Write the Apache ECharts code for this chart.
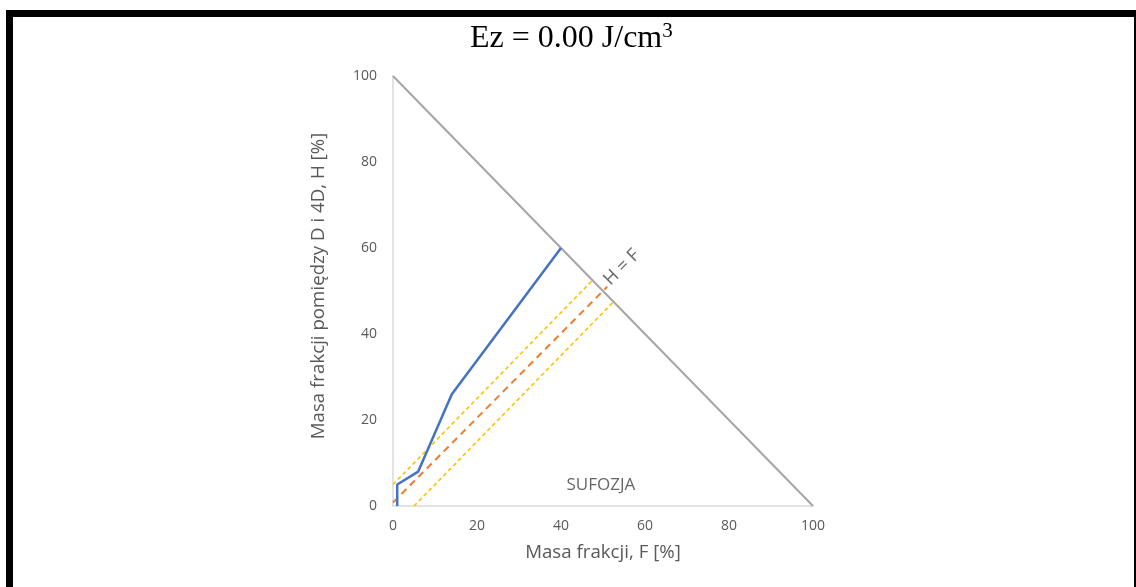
<!DOCTYPE html>
<html>
<head>
<meta charset="utf-8">
<script src="https://cdn.jsdelivr.net/npm/echarts@6/dist/echarts.min.js"></script>
<style>
  html, body { margin: 0; padding: 0; background: #ffffff; overflow: hidden; }
  #frame { position: absolute; left: 6px; top: 10px; width: 1135px; height: 600px;
           border-left: 7px solid #000; border-top: 7px solid #000; border-right: 7px solid #000;
           box-sizing: border-box; }
  #chart { position: absolute; left: 0; top: 0; width: 1136px; height: 587px; }
</style>
</head>
<body>
<div id="frame"></div>
<div id="chart"></div>
<script>
// Axis ticks
const xTicks = [0, 20, 40, 60, 80, 100];
const yTicks = [0, 20, 40, 60, 80, 100];

// Boundary of the admissible region: F + H = 100
const boundaryLine = [[0, 100], [100, 0]];

// Measured curve (F, H)
const curveF = [1, 1, 6, 14, 40];
const curveH = [0, 5, 8, 26, 60];

// H = F reference line and its ±5 band
const lineHF = [[0, 0.8], [51, 51]];
const bandUpper = [[0, 5], [47.5, 52.5]];
const bandLower = [[5, 0], [52.5, 47.5]];

// Text annotations placed in data coordinates
const labelHF = { text: 'H = F', pos: [54.5, 55.5] };
const labelSuf = { text: 'SUFOZJA', pos: [49.5, 4.9] };

const curve = curveF.map((f, i) => [f, curveH[i]]);

const chart = echarts.init(document.getElementById('chart'), null, { renderer: 'canvas' });

const tickFont = { color: '#595959', fontSize: 14, fontFamily: 'Open Sans' };
const nameFont = { color: '#595959', fontSize: 18.7, fontFamily: 'Open Sans' };

chart.setOption({
  animation: false,
  title: {
    text: '{t|Ez = 0.00 J/cm}{s|3}',
    left: 470,
    top: 17,
    padding: 0,
    textStyle: {
      rich: {
        t: { fontFamily: 'Liberation Serif', fontSize: 32, fontWeight: 'normal', color: '#000', verticalAlign: 'bottom', lineHeight: 38 },
        s: { fontFamily: 'Liberation Serif', fontSize: 21, fontWeight: 'normal', color: '#000', verticalAlign: 'top', lineHeight: 38, padding: [4, 0, 0, 0] }
      }
    }
  },
  grid: { left: 393, right: 323, top: 76, bottom: 81, containLabel: false },
  xAxis: {
    type: 'value', min: 0, max: 100, interval: 20,
    name: 'Masa frakcji, F [%]', nameLocation: 'middle', nameGap: 37,
    nameTextStyle: nameFont,
    axisLine: { show: true, lineStyle: { color: '#d9d9d9', width: 1.5 } },
    axisTick: { show: false },
    splitLine: { show: false },
    axisLabel: Object.assign({ margin: 13, formatter: v => xTicks.includes(v) ? String(v) : '' }, tickFont)
  },
  yAxis: {
    type: 'value', min: 0, max: 100, interval: 20,
    name: 'Masa frakcji pomiędzy D i 4D, H [%]', nameLocation: 'middle', nameGap: 65,
    nameTextStyle: Object.assign({ padding: [0, 0, 0, 10] }, nameFont),
    axisLine: { show: true, lineStyle: { color: '#d9d9d9', width: 1.5 } },
    axisTick: { show: false },
    splitLine: { show: false },
    axisLabel: Object.assign({ margin: 16, formatter: v => yTicks.includes(v) ? String(v) : '' }, tickFont)
  },
  series: [
    {
      type: 'line', data: boundaryLine, symbol: 'none',
      lineStyle: { color: '#a5a5a5', width: 2 }, z: 2
    },
    {
      type: 'line', data: bandUpper, symbol: 'none',
      lineStyle: { color: '#ffc000', width: 1.6, type: [4, 3] }, z: 3
    },
    {
      type: 'line', data: bandLower, symbol: 'none',
      lineStyle: { color: '#ffc000', width: 1.6, type: [4, 3] }, z: 3
    },
    {
      type: 'line', data: lineHF, symbol: 'none',
      lineStyle: { color: '#ed7d31', width: 2, type: [7, 5] }, z: 3
    },
    {
      type: 'line', data: curve, symbol: 'none',
      lineStyle: { color: '#4472c4', width: 2.5 }, z: 4
    },
    {
      type: 'scatter', symbolSize: 0, silent: true,
      data: [labelHF.pos],
      label: {
        show: true, position: 'inside', rotate: 45, formatter: labelHF.text,
        color: '#404040', fontSize: 18, fontFamily: 'Open Sans'
      }, z: 5
    },
    {
      type: 'scatter', symbolSize: 0, silent: true,
      data: [labelSuf.pos],
      label: {
        show: true, position: 'inside', formatter: labelSuf.text,
        color: '#404040', fontSize: 17, fontFamily: 'Open Sans'
      }, z: 5
    }
  ]
});
</script>
</body>
</html>
